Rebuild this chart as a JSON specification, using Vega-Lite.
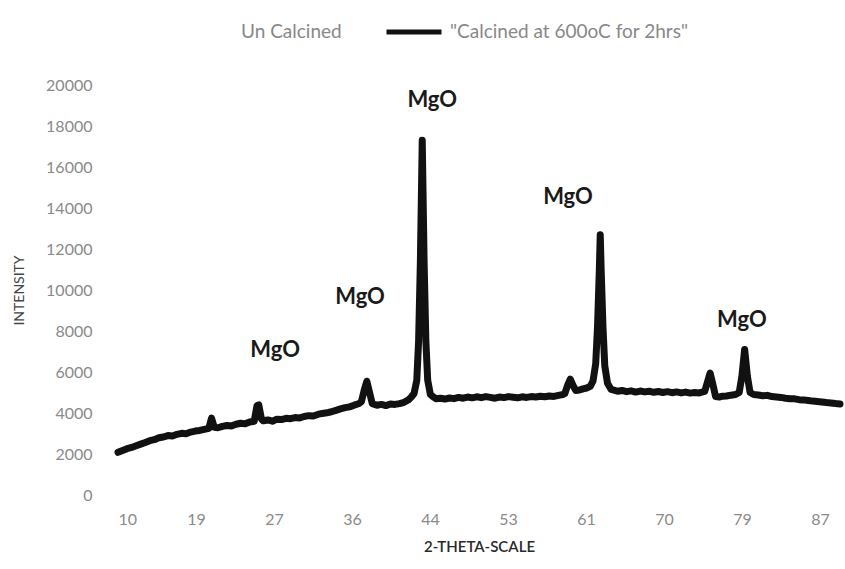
{
  "$schema": "https://vega.github.io/schema/vega-lite/v6.json",
  "width": 722,
  "height": 410,
  "autosize": {"type": "none"},
  "padding": {"left": 118, "top": 85, "right": 5, "bottom": 74},
  "background": "white",
  "config": {
    "view": {"stroke": null},
    "font": "Lato"
  },
  "datasets": {
    "xrd": [
      {"theta": 10.0, "intensity": 2080}, {"theta": 10.5, "intensity": 2170}, {"theta": 11.0, "intensity": 2260}, {"theta": 11.5, "intensity": 2320},
      {"theta": 12.0, "intensity": 2400}, {"theta": 12.5, "intensity": 2480}, {"theta": 13.0, "intensity": 2560}, {"theta": 13.5, "intensity": 2650},
      {"theta": 14.0, "intensity": 2700}, {"theta": 14.5, "intensity": 2790}, {"theta": 15.0, "intensity": 2830}, {"theta": 15.5, "intensity": 2900},
      {"theta": 16.0, "intensity": 2880}, {"theta": 16.5, "intensity": 2960}, {"theta": 17.0, "intensity": 3010}, {"theta": 17.5, "intensity": 2990},
      {"theta": 18.0, "intensity": 3070}, {"theta": 18.5, "intensity": 3120}, {"theta": 19.0, "intensity": 3150}, {"theta": 19.5, "intensity": 3200},
      {"theta": 20.0, "intensity": 3250}, {"theta": 20.3, "intensity": 3750}, {"theta": 20.6, "intensity": 3300}, {"theta": 21.0, "intensity": 3280},
      {"theta": 21.5, "intensity": 3350}, {"theta": 22.0, "intensity": 3390}, {"theta": 22.5, "intensity": 3370}, {"theta": 23.0, "intensity": 3450},
      {"theta": 23.5, "intensity": 3500}, {"theta": 24.0, "intensity": 3470}, {"theta": 24.5, "intensity": 3560}, {"theta": 25.0, "intensity": 3600},
      {"theta": 25.3, "intensity": 4350}, {"theta": 25.5, "intensity": 4400}, {"theta": 25.8, "intensity": 3700}, {"theta": 26.0, "intensity": 3620},
      {"theta": 26.5, "intensity": 3660}, {"theta": 27.0, "intensity": 3600}, {"theta": 27.5, "intensity": 3700}, {"theta": 28.0, "intensity": 3680},
      {"theta": 28.5, "intensity": 3740}, {"theta": 29.0, "intensity": 3720}, {"theta": 29.5, "intensity": 3780}, {"theta": 30.0, "intensity": 3760},
      {"theta": 30.5, "intensity": 3830}, {"theta": 31.0, "intensity": 3870}, {"theta": 31.5, "intensity": 3850}, {"theta": 32.0, "intensity": 3930},
      {"theta": 32.5, "intensity": 3980}, {"theta": 33.0, "intensity": 4010}, {"theta": 33.5, "intensity": 4060}, {"theta": 34.0, "intensity": 4130},
      {"theta": 34.5, "intensity": 4200}, {"theta": 35.0, "intensity": 4260}, {"theta": 35.5, "intensity": 4300}, {"theta": 36.0, "intensity": 4380},
      {"theta": 36.5, "intensity": 4450}, {"theta": 36.8, "intensity": 4550}, {"theta": 37.1, "intensity": 5100}, {"theta": 37.4, "intensity": 5550},
      {"theta": 37.7, "intensity": 5000}, {"theta": 38.0, "intensity": 4450}, {"theta": 38.5, "intensity": 4380}, {"theta": 39.0, "intensity": 4420},
      {"theta": 39.5, "intensity": 4360}, {"theta": 40.0, "intensity": 4440}, {"theta": 40.5, "intensity": 4420}, {"theta": 41.0, "intensity": 4460},
      {"theta": 41.5, "intensity": 4520}, {"theta": 42.0, "intensity": 4650}, {"theta": 42.3, "intensity": 4780}, {"theta": 42.6, "intensity": 4950},
      {"theta": 42.9, "intensity": 5600}, {"theta": 43.1, "intensity": 7500}, {"theta": 43.3, "intensity": 11500}, {"theta": 43.5, "intensity": 17300},
      {"theta": 43.7, "intensity": 11500}, {"theta": 43.9, "intensity": 7500}, {"theta": 44.1, "intensity": 5600}, {"theta": 44.4, "intensity": 4900},
      {"theta": 44.8, "intensity": 4760}, {"theta": 45.0, "intensity": 4700}, {"theta": 45.5, "intensity": 4720}, {"theta": 46.0, "intensity": 4680},
      {"theta": 46.5, "intensity": 4730}, {"theta": 47.0, "intensity": 4700}, {"theta": 47.5, "intensity": 4760}, {"theta": 48.0, "intensity": 4720},
      {"theta": 48.5, "intensity": 4780}, {"theta": 49.0, "intensity": 4740}, {"theta": 49.5, "intensity": 4790}, {"theta": 50.0, "intensity": 4750},
      {"theta": 50.5, "intensity": 4800}, {"theta": 51.0, "intensity": 4760}, {"theta": 51.5, "intensity": 4720}, {"theta": 52.0, "intensity": 4780},
      {"theta": 52.5, "intensity": 4750}, {"theta": 53.0, "intensity": 4800}, {"theta": 53.5, "intensity": 4770}, {"theta": 54.0, "intensity": 4740},
      {"theta": 54.5, "intensity": 4790}, {"theta": 55.0, "intensity": 4760}, {"theta": 55.5, "intensity": 4800}, {"theta": 56.0, "intensity": 4780},
      {"theta": 56.5, "intensity": 4820}, {"theta": 57.0, "intensity": 4790}, {"theta": 57.5, "intensity": 4830}, {"theta": 58.0, "intensity": 4810},
      {"theta": 58.5, "intensity": 4860}, {"theta": 59.0, "intensity": 4900}, {"theta": 59.2, "intensity": 4950}, {"theta": 59.5, "intensity": 5350},
      {"theta": 59.8, "intensity": 5650}, {"theta": 60.1, "intensity": 5350}, {"theta": 60.4, "intensity": 5100}, {"theta": 60.8, "intensity": 5120},
      {"theta": 61.2, "intensity": 5180}, {"theta": 61.6, "intensity": 5220}, {"theta": 62.0, "intensity": 5300}, {"theta": 62.3, "intensity": 5550},
      {"theta": 62.6, "intensity": 6400}, {"theta": 62.8, "intensity": 8200}, {"theta": 63.0, "intensity": 11000}, {"theta": 63.1, "intensity": 12700},
      {"theta": 63.2, "intensity": 11000}, {"theta": 63.4, "intensity": 8200}, {"theta": 63.6, "intensity": 6300}, {"theta": 63.9, "intensity": 5450},
      {"theta": 64.3, "intensity": 5150}, {"theta": 64.7, "intensity": 5100}, {"theta": 65.0, "intensity": 5060}, {"theta": 65.5, "intensity": 5100},
      {"theta": 66.0, "intensity": 5040}, {"theta": 66.5, "intensity": 5080}, {"theta": 67.0, "intensity": 5020}, {"theta": 67.5, "intensity": 5070},
      {"theta": 68.0, "intensity": 5030}, {"theta": 68.5, "intensity": 5060}, {"theta": 69.0, "intensity": 5010}, {"theta": 69.5, "intensity": 5050},
      {"theta": 70.0, "intensity": 5000}, {"theta": 70.5, "intensity": 5040}, {"theta": 71.0, "intensity": 4990}, {"theta": 71.5, "intensity": 5030},
      {"theta": 72.0, "intensity": 4980}, {"theta": 72.5, "intensity": 5020}, {"theta": 73.0, "intensity": 4970}, {"theta": 73.5, "intensity": 5000},
      {"theta": 74.0, "intensity": 4980}, {"theta": 74.6, "intensity": 5050}, {"theta": 74.9, "intensity": 5500}, {"theta": 75.2, "intensity": 5950},
      {"theta": 75.5, "intensity": 5400}, {"theta": 75.8, "intensity": 4800}, {"theta": 76.2, "intensity": 4780}, {"theta": 76.6, "intensity": 4820},
      {"theta": 77.0, "intensity": 4830}, {"theta": 77.5, "intensity": 4870}, {"theta": 78.0, "intensity": 4900}, {"theta": 78.4, "intensity": 5000},
      {"theta": 78.7, "intensity": 5800}, {"theta": 79.0, "intensity": 7100}, {"theta": 79.3, "intensity": 5800}, {"theta": 79.6, "intensity": 5000},
      {"theta": 80.0, "intensity": 4900}, {"theta": 80.5, "intensity": 4880}, {"theta": 81.0, "intensity": 4840}, {"theta": 81.5, "intensity": 4860},
      {"theta": 82.0, "intensity": 4800}, {"theta": 82.5, "intensity": 4780}, {"theta": 83.0, "intensity": 4760}, {"theta": 83.5, "intensity": 4720},
      {"theta": 84.0, "intensity": 4700}, {"theta": 84.5, "intensity": 4690}, {"theta": 85.0, "intensity": 4650}, {"theta": 85.5, "intensity": 4640},
      {"theta": 86.0, "intensity": 4610}, {"theta": 86.5, "intensity": 4580}, {"theta": 87.0, "intensity": 4560}, {"theta": 87.5, "intensity": 4540},
      {"theta": 88.0, "intensity": 4510}, {"theta": 88.5, "intensity": 4490}, {"theta": 89.0, "intensity": 4460}, {"theta": 89.5, "intensity": 4440}
    ],
    "labels": [
      {"theta": 27.3, "intensity": 7070, "label": "MgO"},
      {"theta": 36.65, "intensity": 9660, "label": "MgO"},
      {"theta": 44.6, "intensity": 19270, "label": "MgO"},
      {"theta": 59.55, "intensity": 14540, "label": "MgO"},
      {"theta": 78.7, "intensity": 8540, "label": "MgO"}
    ]
  },
  "layer": [
    {
      "data": {"name": "xrd"},
      "transform": [{"calculate": "'\"Calcined at 600oC for 2hrs\"'", "as": "series"}],
      "mark": {"type": "line", "strokeWidth": 7, "strokeJoin": "round", "strokeCap": "round"},
      "encoding": {
        "x": {
          "field": "theta", "type": "quantitative",
          "scale": {"domain": [10, 89.5], "nice": false, "zero": false},
          "axis": {
            "title": "2-THETA-SCALE",
            "values": [10, 18.59, 27.18, 35.77, 44.36, 52.94, 61.53, 70.12, 78.71, 87.3],
            "labelExpr": "['10','19','27','36','44','53','61','70','79','87'][round((datum.value - 10) / 8.59)]",
            "grid": false, "domain": false, "ticks": false,
            "labelColor": "#8a8a8a", "labelFontSize": 16, "labelPadding": 16, "labelFont": "Lato",
            "titleColor": "#2a2a2a", "titleFontSize": 15, "titleFontWeight": 600, "titlePadding": 12, "titleFont": "Lato"
          }
        },
        "y": {
          "field": "intensity", "type": "quantitative",
          "scale": {"domain": [0, 20000], "nice": false},
          "axis": {
            "title": "INTENSITY",
            "values": [0, 2000, 4000, 6000, 8000, 10000, 12000, 14000, 16000, 18000, 20000],
            "format": "d",
            "grid": false, "domain": false, "ticks": false,
            "labelColor": "#8a8a8a", "labelFontSize": 16, "labelPadding": 26, "labelFont": "Lato",
            "titleColor": "#444444", "titleFontSize": 14, "titleFontWeight": "normal", "titlePadding": 19, "titleFont": "Lato"
          }
        },
        "color": {
          "field": "series", "type": "nominal",
          "scale": {"domain": ["Un Calcined", "\"Calcined at 600oC for 2hrs\""], "range": ["#ffffff", "#111111"]},
          "legend": {
            "title": null, "orient": "none", "legendX": 57, "legendY": -83,
            "direction": "horizontal", "symbolType": "stroke", "symbolSize": 3025, "symbolStrokeWidth": 5,
            "labelFontSize": 19, "labelColor": "#888888", "labelFont": "Lato", "labelOffset": 6,
            "columnPadding": 34, "labelLimit": 400
          }
        }
      }
    },
    {
      "data": {"name": "labels"},
      "mark": {"type": "text", "fontSize": 22, "fontWeight": "bold", "font": "Lato", "color": "#1a1a1a", "baseline": "middle", "align": "center"},
      "encoding": {
        "x": {"field": "theta", "type": "quantitative"},
        "y": {"field": "intensity", "type": "quantitative"},
        "text": {"field": "label"}
      }
    }
  ]
}
